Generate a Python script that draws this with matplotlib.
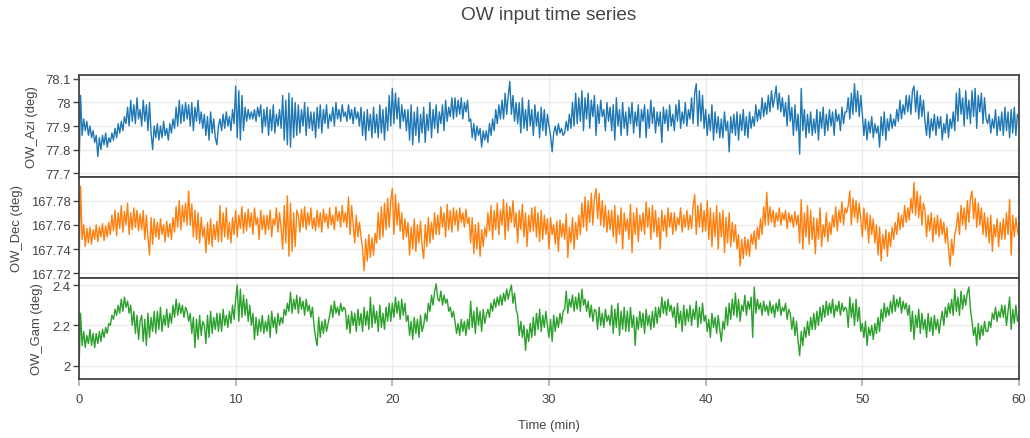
import numpy as np
import matplotlib.pyplot as plt
from matplotlib.ticker import FuncFormatter

plt.rcParams['font.family'] = ['Liberation Sans', 'DejaVu Sans']

# OW attitude samples, one every 6 s (one row = one minute)
ow_azi = [
    77.70, 78.03, 77.86, 77.93, 77.88, 77.92, 77.86, 77.90, 77.85, 77.88,
    77.83, 77.86, 77.77, 77.85, 77.80, 77.86, 77.82, 77.87, 77.81, 77.85,
    77.83, 77.87, 77.84, 77.89, 77.85, 77.91, 77.87, 77.92, 77.88, 77.94,
    77.91, 77.98, 77.90, 78.01, 77.92, 77.99, 77.91, 78.02, 77.93, 77.97,
    77.90, 78.01, 77.92, 77.99, 77.88, 78.00, 77.87, 77.80, 77.90, 77.85,
    77.91, 77.84, 77.90, 77.85, 77.92, 77.86, 77.89, 77.84, 77.91, 77.87,
    77.93, 77.89, 77.98, 77.90, 78.01, 77.91, 77.99, 77.92, 78.00, 77.93,
    77.99, 77.90, 78.00, 77.88, 77.98, 77.92, 78.01, 77.91, 77.96, 77.89,
    77.95, 77.86, 77.94, 77.84, 77.96, 77.87, 77.93, 77.85, 77.82, 77.90,
    77.93, 77.88, 77.95, 77.89, 77.96, 77.90, 77.94, 77.88, 77.97, 77.91,
    78.07, 77.85, 78.05, 77.84, 78.03, 77.88, 77.98, 77.92, 77.97, 77.93,
    77.96, 77.93, 77.97, 77.92, 77.98, 77.94, 77.99, 77.87, 77.97, 77.90,
    77.98, 77.86, 77.97, 77.88, 77.99, 77.87, 77.95, 77.90, 77.97, 77.89,
    78.03, 77.84, 78.01, 77.82, 78.04, 77.81, 78.02, 77.85, 78.00, 77.86,
    77.99, 77.87, 77.97, 77.90, 78.00, 77.86, 77.98, 77.89, 77.96, 77.88,
    77.96, 77.85, 77.98, 77.89, 77.99, 77.87, 77.97, 77.91, 77.99, 77.89,
    77.95, 77.92, 77.98, 77.90, 78.00, 77.93, 77.97, 77.92, 77.99, 77.94,
    77.96, 77.92, 77.99, 77.93, 77.97, 77.91, 77.98, 77.93, 77.96, 77.90,
    77.98, 77.86, 77.96, 77.84, 77.97, 77.88, 77.95, 77.85, 77.98, 77.87,
    77.95, 77.85, 77.99, 77.87, 77.97, 77.84, 77.98, 77.88, 78.03, 77.90,
    78.06, 77.91, 78.04, 77.93, 78.02, 77.89, 77.99, 77.92, 77.97, 77.88,
    77.97, 77.84, 77.99, 77.82, 77.96, 77.86, 77.98, 77.83, 77.95, 77.87,
    77.98, 77.83, 77.95, 77.88, 78.00, 77.85, 77.97, 77.89, 77.99, 77.87,
    77.96, 77.91, 77.99, 77.88, 78.01, 77.92, 77.98, 77.94, 78.02, 77.93,
    78.02, 77.94, 78.01, 77.95, 78.02, 77.93, 78.00, 77.96, 78.01, 77.92,
    77.93, 77.85, 77.91, 77.84, 77.90, 77.86, 77.89, 77.81, 77.88, 77.84,
    77.88, 77.83, 77.91, 77.86, 77.93, 77.88, 77.97, 77.91, 77.99, 77.93,
    78.01, 77.93, 78.04, 77.95, 78.03, 78.09, 77.95, 78.03, 77.92, 78.00,
    77.91, 78.00, 77.87, 78.02, 77.89, 77.97, 77.88, 78.01, 77.90, 77.97,
    77.86, 77.99, 77.90, 77.96, 77.85, 77.98, 77.88, 77.97, 77.86, 77.95,
    77.90, 77.86, 77.79, 77.87, 77.90, 77.86, 77.91, 77.87, 77.89, 77.86,
    77.87, 77.92, 77.88, 77.95, 77.89, 78.00, 77.90, 78.04, 77.91, 78.02,
    77.92, 78.05, 77.88, 78.02, 77.93, 78.04, 77.89, 78.01, 77.94, 78.03,
    77.86, 77.99, 77.91, 78.01, 77.94, 77.97, 77.88, 78.00, 77.92, 77.98,
    77.88, 77.99, 77.84, 78.02, 77.90, 77.97, 77.86, 78.00, 77.89, 77.96,
    77.86, 77.98, 77.91, 78.00, 77.87, 77.96, 77.90, 77.99, 77.85, 77.97,
    77.92, 77.99, 77.85, 77.97, 77.89, 78.01, 77.91, 77.98, 77.87, 77.96,
    77.90, 77.96, 77.83, 77.98, 77.91, 77.97, 77.88, 77.99, 77.90, 77.95,
    77.88, 77.99, 77.92, 78.01, 77.89, 77.96, 77.91, 78.00, 77.90, 77.97,
    77.93, 78.02, 77.91, 78.04, 78.08, 77.90, 78.05, 77.92, 78.03, 77.89,
    77.97, 77.86, 77.95, 77.88, 77.99, 77.84, 77.96, 77.87, 77.94, 77.85,
    77.93, 77.85, 77.96, 77.88, 77.92, 77.79, 77.94, 77.87, 77.95, 77.86,
    77.96, 77.84, 77.95, 77.88, 77.97, 77.86, 77.94, 77.85, 77.96, 77.89,
    77.94, 77.90, 77.99, 77.92, 77.97, 77.93, 78.02, 77.94, 78.00, 77.95,
    78.03, 77.96, 78.05, 77.98, 78.02, 78.07, 77.97, 78.04, 77.96, 78.02,
    77.94, 78.00, 77.90, 78.03, 77.92, 77.98, 77.86, 77.99, 77.88, 77.95,
    77.78, 78.06, 77.88, 77.97, 77.85, 77.95, 77.87, 77.96, 77.86, 77.93,
    77.87, 77.97, 77.84, 77.96, 77.89, 77.98, 77.86, 77.95, 77.88, 77.97,
    77.90, 77.96, 77.86, 77.97, 77.92, 77.95, 77.88, 77.98, 77.91, 77.96,
    77.96, 78.02, 77.93, 78.04, 77.95, 78.08, 77.96, 78.05, 77.94, 78.03,
    77.95, 77.86, 77.93, 77.84, 77.92, 77.87, 77.94, 77.85, 77.91, 77.87,
    77.90, 77.81, 77.94, 77.86, 77.96, 77.84, 77.93, 77.88, 77.95, 77.89,
    77.93, 77.90, 77.97, 77.92, 78.01, 77.93, 77.99, 77.95, 78.03, 77.96,
    78.03, 77.95, 78.05, 78.07, 77.96, 78.05, 77.93, 78.03, 77.94, 78.01,
    77.92, 77.86, 77.96, 77.85, 77.93, 77.88, 77.95, 77.86, 77.94, 77.89,
    77.94, 77.84, 77.91, 77.87, 77.95, 77.85, 77.93, 77.89, 77.96, 77.88,
    78.04, 77.92, 78.06, 77.95, 78.02, 77.90, 78.05, 77.93, 78.01, 77.91,
    78.05, 77.94, 78.06, 77.89, 78.03, 77.96, 78.04, 77.91, 78.02, 77.93,
    77.91, 77.95, 77.87, 77.93, 77.89, 77.97, 77.86, 77.94, 77.88, 77.96,
    77.86, 77.98, 77.88, 77.96, 77.85, 77.97, 77.87, 77.98, 77.86, 77.95,
    77.93,
]

ow_dec = [
    167.723, 167.792, 167.748, 167.760, 167.742, 167.757, 167.745, 167.758, 167.744, 167.756,
    167.748, 167.760, 167.746, 167.758, 167.750, 167.761, 167.747, 167.759, 167.750, 167.762,
    167.752, 167.768, 167.755, 167.772, 167.751, 167.770, 167.757, 167.776, 167.754, 167.771,
    167.760, 167.778, 167.752, 167.770, 167.756, 167.774, 167.758, 167.772, 167.755, 167.769,
    167.756, 167.772, 167.748, 167.768, 167.750, 167.735, 167.766, 167.744, 167.765, 167.750,
    167.762, 167.748, 167.765, 167.752, 167.760, 167.746, 167.763, 167.750, 167.761, 167.748,
    167.766, 167.754, 167.775, 167.758, 167.780, 167.756, 167.776, 167.762, 167.778, 167.760,
    167.788, 167.760, 167.777, 167.750, 167.772, 167.748, 167.770, 167.745, 167.766, 167.750,
    167.758, 167.737, 167.762, 167.744, 167.765, 167.742, 167.760, 167.748, 167.763, 167.746,
    167.776, 167.746, 167.770, 167.750, 167.774, 167.748, 167.762, 167.745, 167.766, 167.752,
    167.772, 167.750, 167.768, 167.757, 167.775, 167.753, 167.770, 167.755, 167.773, 167.758,
    167.770, 167.752, 167.774, 167.760, 167.766, 167.748, 167.772, 167.756, 167.768, 167.752,
    167.768, 167.756, 167.772, 167.750, 167.765, 167.760, 167.774, 167.754, 167.770, 167.757,
    167.740, 167.776, 167.745, 167.784, 167.734, 167.778, 167.738, 167.770, 167.742, 167.772,
    167.768, 167.754, 167.773, 167.758, 167.775, 167.756, 167.770, 167.760, 167.774, 167.757,
    167.766, 167.755, 167.772, 167.758, 167.770, 167.754, 167.773, 167.762, 167.769, 167.757,
    167.774, 167.760, 167.768, 167.756, 167.775, 167.763, 167.771, 167.758, 167.776, 167.762,
    167.770, 167.758, 167.783, 167.752, 167.776, 167.760, 167.745, 167.768, 167.750, 167.762,
    167.750, 167.740, 167.722, 167.748, 167.730, 167.752, 167.733, 167.749, 167.735, 167.753,
    167.745, 167.770, 167.748, 167.775, 167.750, 167.778, 167.756, 167.782, 167.758, 167.780,
    167.790, 167.752, 167.785, 167.760, 167.778, 167.755, 167.770, 167.748, 167.765, 167.750,
    167.762, 167.735, 167.758, 167.740, 167.765, 167.738, 167.760, 167.745, 167.763, 167.742,
    167.732, 167.760, 167.742, 167.766, 167.745, 167.762, 167.748, 167.770, 167.752, 167.768,
    167.752, 167.775, 167.758, 167.770, 167.750, 167.777, 167.756, 167.772, 167.754, 167.774,
    167.760, 167.772, 167.755, 167.774, 167.762, 167.770, 167.758, 167.773, 167.761, 167.766,
    167.745, 167.766, 167.736, 167.760, 167.740, 167.762, 167.734, 167.756, 167.742, 167.758,
    167.750, 167.770, 167.755, 167.776, 167.748, 167.772, 167.756, 167.778, 167.752, 167.772,
    167.760, 167.781, 167.748, 167.778, 167.755, 167.775, 167.762, 167.780, 167.758, 167.770,
    167.745, 167.772, 167.756, 167.777, 167.750, 167.770, 167.742, 167.768, 167.754, 167.774,
    167.755, 167.775, 167.750, 167.770, 167.746, 167.772, 167.748, 167.768, 167.752, 167.765,
    167.740, 167.766, 167.752, 167.760, 167.744, 167.763, 167.738, 167.764, 167.750, 167.761,
    167.748, 167.769, 167.733, 167.758, 167.745, 167.766, 167.740, 167.762, 167.748, 167.768,
    167.752, 167.778, 167.758, 167.783, 167.755, 167.780, 167.762, 167.786, 167.760, 167.782,
    167.790, 167.765, 167.786, 167.760, 167.780, 167.758, 167.776, 167.754, 167.772, 167.756,
    167.772, 167.750, 167.776, 167.745, 167.768, 167.752, 167.774, 167.740, 167.770, 167.755,
    167.765, 167.748, 167.777, 167.737, 167.770, 167.752, 167.774, 167.746, 167.768, 167.755,
    167.770, 167.752, 167.779, 167.758, 167.774, 167.748, 167.776, 167.754, 167.772, 167.750,
    167.766, 167.740, 167.772, 167.755, 167.768, 167.750, 167.774, 167.758, 167.770, 167.752,
    167.770, 167.755, 167.766, 167.760, 167.774, 167.754, 167.768, 167.758, 167.772, 167.756,
    167.768, 167.757, 167.776, 167.785, 167.752, 167.776, 167.758, 167.778, 167.754, 167.772,
    167.755, 167.780, 167.748, 167.774, 167.742, 167.770, 167.750, 167.776, 167.740, 167.770,
    167.750, 167.772, 167.737, 167.766, 167.745, 167.770, 167.742, 167.762, 167.746, 167.760,
    167.740, 167.752, 167.726, 167.748, 167.732, 167.750, 167.735, 167.748, 167.734, 167.752,
    167.744, 167.755, 167.740, 167.758, 167.748, 167.765, 167.752, 167.775, 167.760, 167.787,
    167.760, 167.775, 167.762, 167.772, 167.758, 167.770, 167.763, 167.774, 167.760, 167.770,
    167.764, 167.772, 167.757, 167.770, 167.762, 167.768, 167.758, 167.771, 167.760, 167.768,
    167.745, 167.781, 167.740, 167.770, 167.750, 167.776, 167.744, 167.772, 167.748, 167.766,
    167.736, 167.765, 167.748, 167.774, 167.742, 167.760, 167.750, 167.770, 167.746, 167.762,
    167.752, 167.768, 167.758, 167.775, 167.755, 167.772, 167.762, 167.779, 167.760, 167.774,
    167.770, 167.776, 167.788, 167.760, 167.782, 167.766, 167.780, 167.762, 167.778, 167.765,
    167.750, 167.774, 167.756, 167.770, 167.745, 167.768, 167.752, 167.765, 167.745, 167.760,
    167.735, 167.758, 167.730, 167.752, 167.740, 167.756, 167.734, 167.754, 167.742, 167.758,
    167.748, 167.762, 167.752, 167.770, 167.756, 167.768, 167.758, 167.776, 167.762, 167.774,
    167.764, 167.782, 167.770, 167.795, 167.768, 167.788, 167.766, 167.784, 167.760, 167.778,
    167.772, 167.750, 167.768, 167.755, 167.770, 167.746, 167.766, 167.752, 167.768, 167.750,
    167.765, 167.752, 167.762, 167.745, 167.758, 167.740, 167.726, 167.748, 167.735, 167.752,
    167.758, 167.770, 167.752, 167.776, 167.760, 167.774, 167.756, 167.780, 167.762, 167.782,
    167.788, 167.765, 167.782, 167.758, 167.778, 167.760, 167.774, 167.752, 167.770, 167.750,
    167.766, 167.745, 167.768, 167.738, 167.760, 167.750, 167.765, 167.742, 167.762, 167.748,
    167.765, 167.748, 167.770, 167.752, 167.781, 167.735, 167.768, 167.750, 167.766, 167.755,
    167.750,
]

ow_gam = [
    1.99, 2.26, 2.10, 2.17, 2.09, 2.15, 2.11, 2.18, 2.10, 2.16,
    2.09, 2.16, 2.11, 2.17, 2.12, 2.18, 2.14, 2.19, 2.16, 2.21,
    2.20, 2.25, 2.23, 2.28, 2.25, 2.30, 2.26, 2.33, 2.27, 2.34,
    2.29, 2.32, 2.26, 2.30, 2.20, 2.27, 2.16, 2.25, 2.13, 2.22,
    2.25, 2.12, 2.23, 2.10, 2.26, 2.14, 2.24, 2.17, 2.27, 2.16,
    2.27, 2.18, 2.29, 2.17, 2.25, 2.20, 2.28, 2.19, 2.26, 2.21,
    2.30, 2.24, 2.33, 2.25, 2.31, 2.26, 2.30, 2.24, 2.29, 2.27,
    2.22, 2.26, 2.16, 2.24, 2.09, 2.23, 2.13, 2.25, 2.15, 2.22,
    2.20, 2.11, 2.25, 2.14, 2.27, 2.16, 2.24, 2.18, 2.26, 2.17,
    2.26, 2.17, 2.28, 2.20, 2.25, 2.19, 2.27, 2.21, 2.30, 2.23,
    2.33, 2.40, 2.22, 2.38, 2.24, 2.35, 2.25, 2.33, 2.22, 2.30,
    2.20, 2.26, 2.13, 2.24, 2.15, 2.23, 2.17, 2.25, 2.16, 2.22,
    2.17, 2.25, 2.14, 2.27, 2.19, 2.24, 2.16, 2.26, 2.20, 2.24,
    2.21, 2.28, 2.25, 2.31, 2.27, 2.365, 2.26, 2.33, 2.28, 2.35,
    2.26, 2.34, 2.28, 2.32, 2.25, 2.33, 2.27, 2.30, 2.24, 2.29,
    2.20, 2.14, 2.10, 2.24, 2.14, 2.22, 2.16, 2.23, 2.17, 2.21,
    2.25, 2.30, 2.24, 2.32, 2.26, 2.29, 2.25, 2.31, 2.27, 2.29,
    2.28, 2.18, 2.25, 2.16, 2.27, 2.20, 2.26, 2.17, 2.28, 2.20,
    2.26, 2.17, 2.29, 2.20, 2.27, 2.18, 2.34, 2.19, 2.30, 2.21,
    2.27, 2.17, 2.30, 2.19, 2.26, 2.18, 2.29, 2.22, 2.31, 2.22,
    2.31, 2.24, 2.34, 2.26, 2.32, 2.23, 2.33, 2.25, 2.31, 2.22,
    2.25, 2.15, 2.22, 2.13, 2.24, 2.16, 2.23, 2.14, 2.25, 2.17,
    2.20, 2.26, 2.22, 2.31, 2.27, 2.35, 2.30, 2.37, 2.406, 2.33,
    2.32, 2.37, 2.30, 2.35, 2.31, 2.33, 2.27, 2.29, 2.24, 2.27,
    2.22, 2.16, 2.21, 2.15, 2.23, 2.17, 2.22, 2.15, 2.23, 2.18,
    2.32, 2.19, 2.27, 2.16, 2.29, 2.20, 2.27, 2.17, 2.28, 2.21,
    2.25, 2.28, 2.24, 2.31, 2.27, 2.33, 2.29, 2.34, 2.30, 2.35,
    2.30, 2.36, 2.32, 2.38, 2.33, 2.37, 2.40, 2.31, 2.36, 2.28,
    2.25, 2.15, 2.22, 2.14, 2.20, 2.076, 2.18, 2.12, 2.21, 2.14,
    2.24, 2.15, 2.26, 2.18, 2.28, 2.17, 2.25, 2.19, 2.27, 2.20,
    2.14, 2.23, 2.12, 2.25, 2.17, 2.24, 2.19, 2.26, 2.21, 2.27,
    2.28, 2.37, 2.26, 2.33, 2.29, 2.35, 2.27, 2.34, 2.28, 2.36,
    2.27, 2.38, 2.30, 2.33, 2.27, 2.32, 2.24, 2.30, 2.22, 2.28,
    2.27, 2.18, 2.29, 2.20, 2.26, 2.19, 2.28, 2.22, 2.25, 2.20,
    2.30, 2.16, 2.28, 2.19, 2.31, 2.15, 2.27, 2.18, 2.29, 2.17,
    2.27, 2.17, 2.29, 2.19, 2.25, 2.10, 2.24, 2.18, 2.27, 2.19,
    2.26, 2.16, 2.28, 2.20, 2.25, 2.18, 2.27, 2.19, 2.29, 2.21,
    2.29, 2.24, 2.34, 2.26, 2.32, 2.25, 2.33, 2.27, 2.30, 2.24,
    2.29, 2.19, 2.31, 2.21, 2.27, 2.17, 2.30, 2.20, 2.28, 2.22,
    2.30, 2.20, 2.28, 2.23, 2.32, 2.19, 2.29, 2.21, 2.31, 2.22,
    2.25, 2.17, 2.23, 2.14, 2.26, 2.19, 2.24, 2.16, 2.25, 2.18,
    2.12, 2.22, 2.18, 2.29, 2.20, 2.31, 2.23, 2.33, 2.25, 2.36,
    2.24, 2.33, 2.22, 2.30, 2.27, 2.35, 2.25, 2.32, 2.28, 2.34,
    2.14, 2.39, 2.26, 2.33, 2.28, 2.31, 2.25, 2.32, 2.27, 2.30,
    2.25, 2.32, 2.26, 2.30, 2.24, 2.31, 2.27, 2.33, 2.25, 2.29,
    2.27, 2.31, 2.23, 2.28, 2.26, 2.18, 2.24, 2.15, 2.22, 2.12,
    2.05, 2.17, 2.10, 2.19, 2.14, 2.22, 2.15, 2.24, 2.18, 2.26,
    2.18, 2.27, 2.20, 2.29, 2.22, 2.30, 2.24, 2.32, 2.25, 2.31,
    2.26, 2.33, 2.24, 2.30, 2.27, 2.32, 2.25, 2.31, 2.27, 2.29,
    2.28, 2.19, 2.34, 2.24, 2.31, 2.20, 2.33, 2.22, 2.29, 2.17,
    2.21, 2.14, 2.22, 2.10, 2.19, 2.15, 2.20, 2.13, 2.21, 2.16,
    2.24, 2.17, 2.28, 2.22, 2.31, 2.24, 2.29, 2.25, 2.32, 2.26,
    2.35, 2.27, 2.33, 2.29, 2.34, 2.26, 2.32, 2.28, 2.31, 2.25,
    2.30, 2.17, 2.27, 2.13, 2.25, 2.19, 2.28, 2.16, 2.26, 2.18,
    2.23, 2.14, 2.26, 2.17, 2.24, 2.15, 2.25, 2.18, 2.23, 2.16,
    2.22, 2.27, 2.20, 2.29, 2.24, 2.31, 2.26, 2.33, 2.25, 2.38,
    2.27, 2.34, 2.25, 2.37, 2.28, 2.35, 2.30, 2.36, 2.39, 2.28,
    2.22, 2.15, 2.19, 2.10, 2.21, 2.13, 2.20, 2.15, 2.22, 2.17,
    2.17, 2.22, 2.19, 2.26, 2.23, 2.29, 2.22, 2.27, 2.24, 2.30,
    2.24, 2.30, 2.20, 2.27, 2.34, 2.18, 2.28, 2.21, 2.30, 2.22,
    2.25,
]

sample_period_s = 6
time_min = np.arange(len(ow_azi)) * sample_period_s / 60

series = [
    ('OW_Azi (deg)', ow_azi, '#1f77b4', (77.683, 78.117), [77.7, 77.8, 77.9, 78.0, 78.1]),
    ('OW_Dec (deg)', ow_dec, '#ff7f0e', (167.716, 167.7996), [167.72, 167.74, 167.76, 167.78]),
    ('OW_Gam (deg)', ow_gam, '#2ca02c', (1.934, 2.435), [2.0, 2.2, 2.4]),
]
x_ticks = [0, 10, 20, 30, 40, 50, 60]

W, H = 1030, 439
fig = plt.figure(figsize=(W / 100, H / 100), dpi=100)

# panel extents in pixels: (top, bottom)
panels = [(76, 178), (178, 279), (279, 380)]
label_x = [32, 17.5, 37]
left, right = 79, 1019

txt = '#444444'
fs = 9.4
fmt = FuncFormatter(lambda v, p: '{:g}'.format(round(v, 4)))

for i, ((name, vals, color, ylim, yticks), (top, bot)) in enumerate(zip(series, panels)):
    ax = fig.add_axes([left / W, 1 - bot / H, (right - left) / W, (bot - top) / H])
    ax.plot(time_min[:len(vals)], vals, color=color, lw=1.0)
    ax.set_xlim(0, 60)
    ax.set_ylim(*ylim)
    ax.set_xticks(x_ticks)
    ax.set_yticks(yticks)
    ax.yaxis.set_major_formatter(fmt)
    ax.grid(True, color='#ebebeb', lw=1.0)
    ax.set_axisbelow(True)
    for s in ax.spines.values():
        s.set_color('#444444')
        s.set_linewidth(1.3)
    ax.tick_params(axis='y', direction='out', length=4, width=1, color='#444444',
                   labelsize=fs, labelcolor=txt, pad=2)
    ax.tick_params(axis='x', direction='out', length=5, width=1.5, color='#bbbbbb',
                   labelsize=fs, labelcolor=txt, pad=5)
    if i < 2:
        ax.tick_params(axis='x', labelbottom=False)
    fig.text(label_x[i] / W, 1 - (top + bot) / 2 / H, name, rotation=90,
             ha='center', va='center', fontsize=fs, color=txt)

fig.text(549 / W, 1 - 16 / H, 'OW input time series', ha='center', va='center',
         fontsize=13.7, color=txt)
fig.text(549 / W, 1 - 426 / H, 'Time (min)', ha='center', va='center',
         fontsize=fs, color=txt)

fig.savefig('out.png', dpi=100)
